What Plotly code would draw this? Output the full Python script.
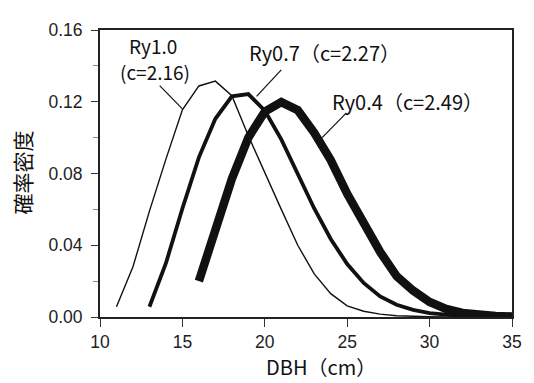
import plotly.graph_objects as go

# ---- data ----
thin_x = list(range(11, 36))
thin_y = [0.0057, 0.028, 0.059, 0.088, 0.1155, 0.1288, 0.1315, 0.1234, 0.101, 0.080,
          0.060, 0.040, 0.024, 0.013, 0.0062, 0.0032, 0.0016, 0.0007, 0.0003, 0.0001,
          0.0, 0.0, 0.0, 0.0, 0.0]

mid_x = list(range(13, 36))
mid_y = [0.0057, 0.030, 0.0605, 0.089, 0.1105, 0.123, 0.1243, 0.1150, 0.0990, 0.080,
         0.0605, 0.0435, 0.0295, 0.019, 0.0115, 0.0068, 0.0040, 0.0022, 0.0011, 0.0005,
         0.0002, 0.0001, 0.0]

thick_x = list(range(16, 36))
thick_y = [0.020, 0.049, 0.077, 0.100, 0.1145, 0.1198, 0.1153, 0.1027, 0.0875, 0.0687,
           0.0516, 0.0363, 0.0228, 0.0147, 0.0084, 0.0045, 0.0023, 0.0012, 0.0006, 0.0003]

series_names = ["Ry1.0 (c=2.16)", "Ry0.7 (c=2.27)", "Ry0.4 (c=2.49)"]
x_ticks = [10, 15, 20, 25, 30, 35]
y_ticks = [0.00, 0.04, 0.08, 0.12, 0.16]

JP = "Noto Sans CJK JP"
TICKF = "Liberation Sans, Arial, sans-serif"

fig = go.Figure()
for xs, ys, w, name in [(thin_x, thin_y, 1.4, series_names[0]),
                        (mid_x, mid_y, 3.8, series_names[1]),
                        (thick_x, thick_y, 8.5, series_names[2])]:
    fig.add_trace(go.Scatter(x=xs, y=ys, mode="lines", name=name,
                             line=dict(color="#111111", width=w),
                             showlegend=False))

# callout lines
callouts = [
    ((13.62, 0.1290), (15.0, 0.1160)),
    ((21.0, 0.1378), (19.5, 0.1230)),
    ((24.95, 0.1138), (23.48, 0.1000)),
]
for (x0, y0), (x1, y1) in callouts:
    fig.add_shape(type="line", xref="x", yref="y", x0=x0, y0=y0, x1=x1, y1=y1,
                  line=dict(color="#111111", width=1.2))

labels = [
    ("Ry1.0", 13.2, 0.1516, 19),
    ("(c=2.16)", 13.31, 0.1368, 19),
    ("Ry0.7（c=2.27）", 23.6, 0.1476, 20),
    ("Ry0.4（c=2.49）", 28.65, 0.1204, 20),
]
for t, x, y, s in labels:
    fig.add_annotation(text=t, x=x, y=y, xref="x", yref="y", showarrow=False,
                       font=dict(family=JP, size=s, color="#111111"),
                       xanchor="center", yanchor="middle")

fig.add_annotation(text="DBH（cm）", xref="paper", yref="paper", x=0.537, y=-0.172,
                   showarrow=False, font=dict(family=JP, size=20, color="#111111"),
                   xanchor="center", yanchor="middle")
fig.add_annotation(text="確率密度", xref="paper", yref="paper", x=-0.1895, y=0.503,
                   showarrow=False, textangle=-90,
                   font=dict(family=JP, size=21, color="#111111"),
                   xanchor="center", yanchor="middle")

# page body has an 8px margin, so the figure is offset by 8px
fig.update_layout(
    width=526, height=375,
    margin=dict(l=92, r=14, t=13, b=66),
    paper_bgcolor="white", plot_bgcolor="white",
    showlegend=False,
)
fig.update_xaxes(range=[10, 35], tickvals=x_ticks, ticks="outside", ticklen=8,
                 tickwidth=1.2, tickcolor="#333", showline=True, linewidth=2,
                 linecolor="#222", mirror=True, showgrid=False, zeroline=False,
                 tickfont=dict(family=TICKF, size=17.5, color="#222"))
fig.update_yaxes(range=[0, 0.16], tickvals=y_ticks, tickformat=".2f", ticks="outside",
                 ticklen=7, tickwidth=1.2, tickcolor="#333", showline=True, linewidth=2,
                 linecolor="#222", mirror=True, showgrid=False, zeroline=False,
                 ticklabelstandoff=5,
                 tickfont=dict(family=TICKF, size=17.5, color="#222"),
                 minor=dict(dtick=0.02, tick0=0, ticks="outside", ticklen=5,
                            tickcolor="#888", tickwidth=1, showgrid=False))

fig.write_html("out.html")
